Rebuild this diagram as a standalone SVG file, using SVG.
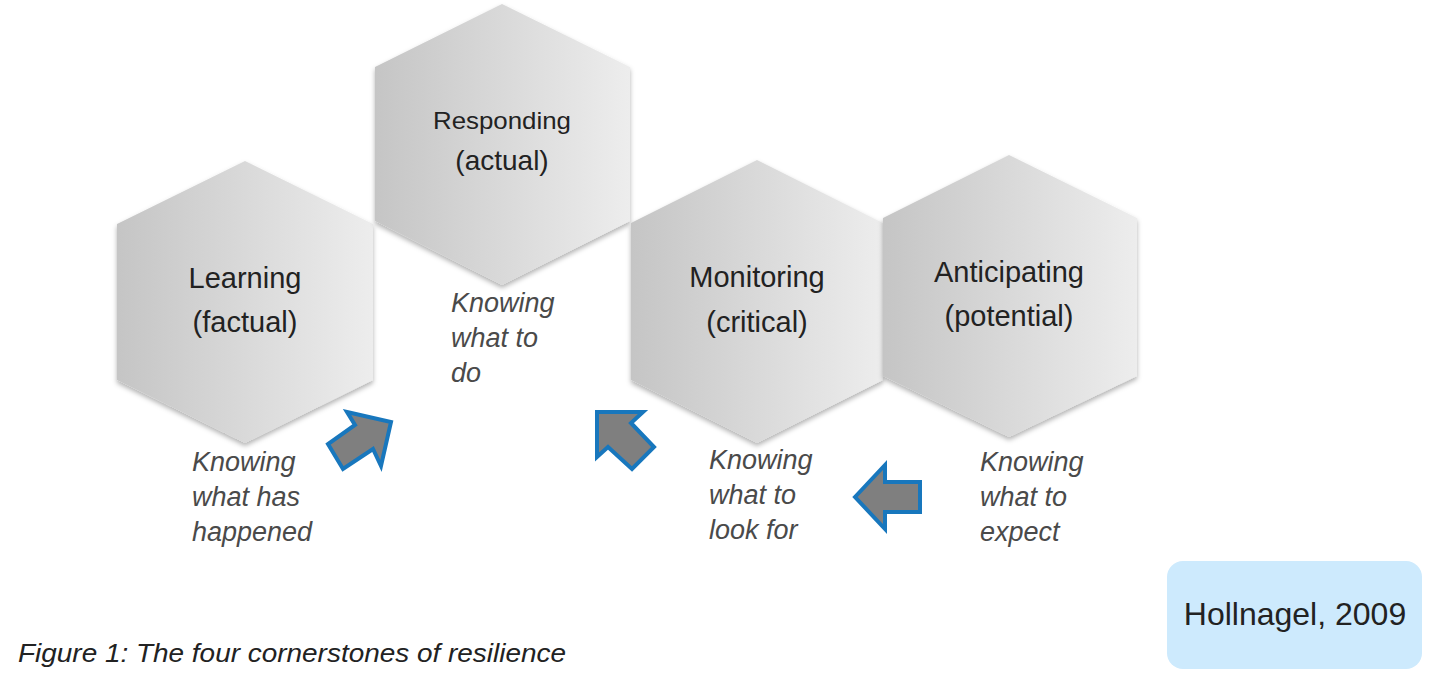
<svg xmlns="http://www.w3.org/2000/svg" width="1429" height="690" viewBox="0 0 1429 690">
  <defs>
    <linearGradient id="hexGrad" x1="0" y1="0" x2="1" y2="0">
      <stop offset="0" stop-color="#c5c5c5"/>
      <stop offset="1" stop-color="#ededed"/>
    </linearGradient>
    <filter id="shadow" x="-10%" y="-10%" width="120%" height="125%">
      <feDropShadow dx="0" dy="3" stdDeviation="2.5" flood-color="#000" flood-opacity="0.3"/>
    </filter>
    <style>
      .hex { fill: url(#hexGrad); filter: url(#shadow); }
      .title { font-family: "Liberation Sans", Arial, sans-serif; fill: #222; text-anchor: middle; }
      .note { font-family: "Liberation Sans", Arial, sans-serif; font-style: italic; font-size: 27px; fill: #4a4a4a; }
      .arrow { fill: #7f7f7f; stroke: #1877bd; stroke-width: 4; stroke-linejoin: miter; }
      .caption { font-family: "Liberation Sans", Arial, sans-serif; font-style: italic; font-size: 26px; fill: #222; }
    </style>
  </defs>
  <rect width="1429" height="690" fill="#ffffff"/>

  <g id="learning">
    <polygon class="hex" points="245,161 373,224 373,380 245,443 117,380 117,224"/>
    <text class="title" x="245" y="288" font-size="29">Learning</text>
    <text class="title" x="245" y="332" font-size="29">(factual)</text>
  </g>

  <g id="responding">
    <polygon class="hex" points="502,4 630,67 630,221 502,285 375,221 375,67"/>
    <text class="title" x="502" y="129" font-size="24" textLength="138" lengthAdjust="spacingAndGlyphs">Responding</text>
    <text class="title" x="502" y="170" font-size="28">(actual)</text>
  </g>

  <g id="monitoring">
    <polygon class="hex" points="757,160 883,223 883,380 757,443 631,380 631,223"/>
    <text class="title" x="757" y="287" font-size="29">Monitoring</text>
    <text class="title" x="757" y="332" font-size="29">(critical)</text>
  </g>

  <g id="anticipating">
    <polygon class="hex" points="1009,155 1137,218 1137,376 1009,437 883,376 883,218"/>
    <text class="title" x="1009" y="282" font-size="29">Anticipating</text>
    <text class="title" x="1009" y="326" font-size="29">(potential)</text>
  </g>

  <g id="notes">
    <text class="note" x="192" y="471">Knowing</text>
    <text class="note" x="192" y="506">what has</text>
    <text class="note" x="192" y="541">happened</text>

    <text class="note" x="451" y="312">Knowing</text>
    <text class="note" x="451" y="347">what to</text>
    <text class="note" x="451" y="382">do</text>

    <text class="note" x="709" y="469">Knowing</text>
    <text class="note" x="709" y="504">what to</text>
    <text class="note" x="709" y="539">look for</text>

    <text class="note" x="980" y="471">Knowing</text>
    <text class="note" x="980" y="506">what to</text>
    <text class="note" x="980" y="541">expect</text>
  </g>

  <g id="connectors">
    <polygon class="arrow" points="347,412 391,422 381,466 373,449 343,469 328,444 355,425"/>
    <polygon class="arrow" points="597,412 643,412 631,423 654,447 632,469 608,447 597,457"/>
    <polygon class="arrow" points="855,497 885,465 885,482 920,482 920,512 885,512 885,529"/>
  </g>

  <g id="citation">
    <rect x="1167" y="561" width="255" height="108" rx="16" ry="16" fill="#cdeafd"/>
    <text class="title" x="1295" y="625" font-size="32">Hollnagel, 2009</text>
  </g>

  <g id="caption">
    <text class="caption" x="18" y="662" textLength="548" lengthAdjust="spacingAndGlyphs">Figure 1: The four cornerstones of resilience</text>
  </g>
</svg>
